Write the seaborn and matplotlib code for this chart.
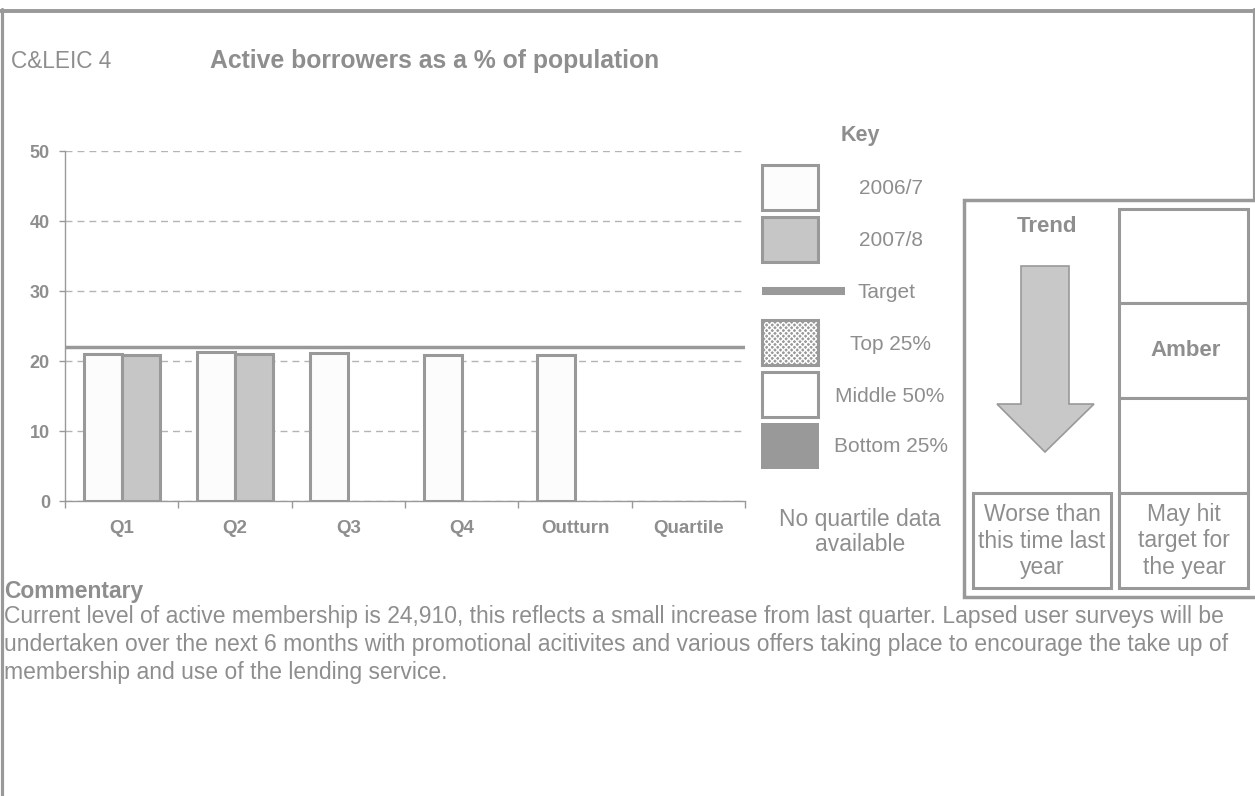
import matplotlib
matplotlib.use("Agg")
import matplotlib.pyplot as plt
import seaborn as sns
import pandas as pd
from matplotlib.patches import Rectangle, Polygon

# ---------------- data ----------------
categories = ["Q1", "Q2", "Q3", "Q4", "Outturn", "Quartile"]
years = ["2006/7", "2007/8"]
values_2006_7 = [21.0, 21.3, 21.1, 20.8, 20.8, None]
values_2007_8 = [20.9, 21.0, None, None, None, None]
target_value = 22
y_ticks = [0, 10, 20, 30, 40, 50]
key_labels = ["2006/7", "2007/8", "Target", "Top 25%", "Middle 50%", "Bottom 25%"]
trend_text = "Worse than\nthis time last\nyear"
status_label = "Amber"
status_text = "May hit\ntarget for\nthe year"
code_label = "C&LEIC 4"
title = "Active borrowers as a % of population"
commentary_lines = [
    "Current level of active membership is 24,910, this reflects a small increase from last quarter. Lapsed user surveys will be",
    "undertaken over the next 6 months with promotional acitivites and various offers taking place to encourage the take up of",
    "membership and use of the lending service.",
]

rows = []
for cat, v in zip(categories, values_2006_7):
    if v is not None:
        rows.append({"cat": cat, "year": years[0], "val": v})
for cat, v in zip(categories, values_2007_8):
    if v is not None:
        rows.append({"cat": cat, "year": years[1], "val": v})
df = pd.DataFrame(rows)

# ---------------- style ----------------
sns.set_theme(style="white")
plt.rcParams["font.family"] = ["Liberation Sans", "DejaVu Sans"]
TXT = "#8e8e8e"
LINE = "#999999"
BODY = 16.5

W, H = 1255, 796
fig = plt.figure(figsize=(W / 100, H / 100), dpi=100)
fig.patch.set_facecolor("white")

ov = fig.add_axes([0, 0, 1, 1], zorder=0)
ov.set_xlim(0, W)
ov.set_ylim(H, 0)
ov.axis("off")

ax = fig.add_axes([65 / W, (H - 501) / H, (745 - 65) / W, (501 - 151) / H], zorder=1)
ax.patch.set_alpha(0)

sns.barplot(data=df, x="cat", y="val", hue="year", order=categories, hue_order=years,
            palette={years[0]: "#fcfcfc", years[1]: "#c6c6c6"}, width=0.67, gap=0,
            saturation=1, edgecolor=LINE, linewidth=2.2, legend=False, ax=ax, zorder=3)
ax.axhline(target_value, color=LINE, lw=2.5, zorder=4)

ax.set_ylim(0, 50)
ax.set_xlim(-0.5, len(categories) - 0.5)
ax.set_yticks(y_ticks)
ax.set_xlabel("")
ax.set_ylabel("")
ax.yaxis.grid(True, linestyle=(0, (5, 3.6)), color="#b4b4b4", lw=1)
ax.set_axisbelow(True)
for s in ["top", "right"]:
    ax.spines[s].set_visible(False)
for s in ["left", "bottom"]:
    ax.spines[s].set_color(LINE)
    ax.spines[s].set_linewidth(1)
ax.set_xticks([i - 0.5 for i in range(len(categories) + 1)], minor=True)
ax.tick_params(axis="x", which="major", length=0, pad=14, labelsize=13.5, labelcolor=TXT)
ax.tick_params(axis="x", which="minor", length=5, width=1, color=LINE, direction="out", bottom=True)
ax.tick_params(axis="y", length=4.3, width=1, color=LINE, direction="out", left=True, pad=6.5,
               labelsize=13, labelcolor=TXT)
for lab in ax.get_xticklabels() + ax.get_yticklabels():
    lab.set_fontweight("bold")

# ---------------- page frame ----------------
ov.plot([1.5, 1.5], [9, H], color=LINE, lw=2.3)
ov.plot([0, 1255], [10.5, 10.5], color=LINE, lw=2.8)
ov.plot([1253.5, 1253.5], [9, 200], color=LINE, lw=2.3)

ov.text(11, 68, code_label, fontsize=16.3, color=TXT, va="baseline", ha="left")
ov.text(210, 68, title, fontsize=17.8, color=TXT, va="baseline", ha="left", fontweight="bold")

# ---------------- key ----------------
ov.text(860, 135, "Key", fontsize=15.5, color=TXT, fontweight="bold", ha="center", va="center")
box_x, box_w, box_h = 762, 56, 45
KEYFS = 15
ov.add_patch(Rectangle((box_x, 165), box_w, box_h, fc="#fcfcfc", ec=LINE, lw=2.2))
ov.text(891, 188, key_labels[0], fontsize=KEYFS, color=TXT, ha="center", va="center")
ov.add_patch(Rectangle((box_x, 217), box_w, box_h, fc="#c6c6c6", ec=LINE, lw=2.2))
ov.text(891, 240, key_labels[1], fontsize=KEYFS, color=TXT, ha="center", va="center")
ov.plot([762, 845], [291, 291], color=LINE, lw=5.8, solid_capstyle="butt")
ov.text(857, 292, key_labels[2], fontsize=KEYFS, color=TXT, ha="left", va="center")
ov.add_patch(Rectangle((box_x, 320), box_w, box_h, fc="#9a9a9a", ec="white", lw=0, hatch="xxxxxx"))
ov.add_patch(Rectangle((box_x, 320), box_w, box_h, fc="none", ec=LINE, lw=2.2))
ov.text(891, 344, key_labels[3], fontsize=KEYFS, color=TXT, ha="center", va="center")
ov.add_patch(Rectangle((box_x, 372), box_w, box_h, fc="white", ec=LINE, lw=2.2))
ov.text(890, 396, key_labels[4], fontsize=KEYFS, color=TXT, ha="center", va="center")
ov.add_patch(Rectangle((box_x - 1, 423), box_w + 2, box_h + 1, fc=LINE, ec="none"))
ov.text(891, 447, key_labels[5], fontsize=KEYFS, color=TXT, ha="center", va="center")
ov.text(860, 532, "No quartile data\navailable", fontsize=BODY, color=TXT, ha="center", va="center",
        linespacing=1.15)

# ---------------- trend / status panel ----------------
ov.add_patch(Rectangle((964, 200), 300, 397, fc="white", ec=LINE, lw=2.5))
ov.text(1047, 226, "Trend", fontsize=16, color=TXT, fontweight="bold", ha="center", va="center")
arrow = [(1021, 266), (1069, 266), (1069, 404), (1094, 404), (1045, 452),
         (997, 404), (1021, 404)]
ov.add_patch(Polygon(arrow, closed=True, fc="#c8c8c8", ec=LINE, lw=1.2))
ov.add_patch(Rectangle((973, 493), 138, 95, fc="white", ec=LINE, lw=2.2))
ov.text(1042, 541, trend_text, fontsize=BODY, color=TXT, ha="center", va="center", linespacing=1.17)
row_edges = [209, 303, 398, 493, 588]
for y0, y1 in zip(row_edges[:-1], row_edges[1:]):
    ov.add_patch(Rectangle((1119, y0), 129, y1 - y0, fc="white", ec=LINE, lw=2.2))
ov.text(1186, 351, status_label, fontsize=16, color=TXT, fontweight="bold", ha="center", va="center")
ov.text(1184, 541, status_text, fontsize=BODY, color=TXT, ha="center", va="center", linespacing=1.17)

# ---------------- commentary ----------------
ov.text(4, 598, "Commentary", fontsize=BODY, color=TXT, fontweight="bold", ha="left", va="baseline")
for i, line in enumerate(commentary_lines):
    ov.text(4, 623 + 28 * i, line, fontsize=BODY, color=TXT, ha="left", va="baseline")

fig.savefig("out.png", dpi=100, facecolor="white")
